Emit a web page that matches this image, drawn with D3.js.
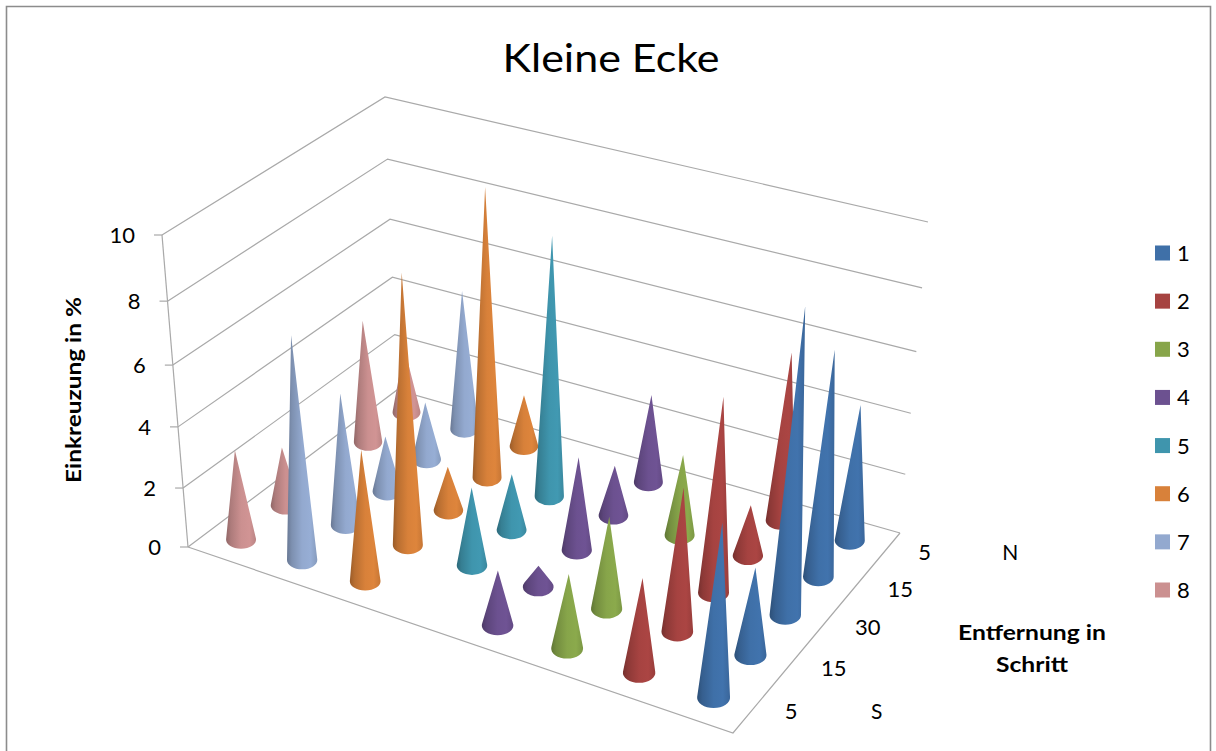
<!DOCTYPE html>
<html>
<head>
  <meta charset="utf-8">
  <script src="https://d3js.org/d3.v7.min.js"></script>
  <style>
    html, body {margin:0; padding:0; background:#fff;}
    text {font-family:Lato, "Open Sans", sans-serif; fill:#000;}
  </style>
</head>
<body>
<svg id="chart" width="1216" height="751"></svg>
<script>
  // Values, one array per series, empty spots are 0
  var series = ["1", "2", "3", "4", "5", "6", "7", "8"];
  var categories = ["5 S", "15 S", "30", "15 N", "5 N"];
  var categoryLabels = ["5", "15", "30", "15", "5"];
  var outerLabels = ["S", "", "", "", "N"];
  var yTicks = [0, 2, 4, 6, 8, 10];
  var s1 = [5.4, 2.8, 9.6, 7.3, 4.5];
  var s2 = [3.0, 4.6, 6.3, 1.7, 5.6];
  var s3 = [2.4, 3.0, 0, 2.7, 0];
  var s4 = [1.8, 0.7, 3.1, 1.7, 3.0];
  var s5 = [0, 2.6, 1.9, 8.6, 0];
  var s6 = [4.3, 8.8, 1.5, 9.6, 1.8];
  var s7 = [7.3, 4.4, 1.9, 2.0, 4.8];
  var s8 = [3.0, 2.0, 0, 4.2, 2.3];
  var values = [s1, s2, s3, s4, s5, s6, s7, s8];
  var colors = ["#3f70a8", "#a64341", "#87a54a", "#6c5190", "#3f95ad", "#d8813a", "#93a9cf", "#cb9090"];

  // Corners of the 3D box on screen: floor and the 10 % level
  var floorBox = {front:[733,733], left:[188,547], back:[397,390], right:[900,533]};
  var topBox = {front:[751,393], left:[162,235], back:[385,97], right:[928,222]};

  // Projective map from the unit square to a quad on screen
  function quadMap(q) {
    var x0=q.front[0], y0=q.front[1], x1=q.left[0], y1=q.left[1],
        x2=q.back[0], y2=q.back[1], x3=q.right[0], y3=q.right[1];
    var sx=x0-x1+x2-x3, sy=y0-y1+y2-y3,
        dx1=x1-x2, dx2=x3-x2, dy1=y1-y2, dy2=y3-y2,
        den=dx1*dy2-dx2*dy1,
        g=(sx*dy2-dx2*sy)/den, h=(dx1*sy-sx*dy1)/den,
        a=x1-x0+g*x1, b=x3-x0+h*x3, d=y1-y0+g*y1, e=y3-y0+h*y3;
    return function(u, v) {
      var w=g*u+h*v+1;
      return [(a*u+b*v+x0)/w, (d*u+e*v+y0)/w];
    };
  }
  var floorAt = quadMap(floorBox), topAt = quadMap(topBox);

  var u = d3.scaleBand().domain(series).range([0, 1]);
  var v = d3.scaleBand().domain(categories).range([0, 1]);
  // wall levels get a bit wider towards the top
  var y = d3.scaleLinear().domain(yTicks).range([0, .189, .385, .583, .788, 1]);
  var legendY = d3.scaleLinear().domain([0, 7]).range([253, 590]);
  var coneR = d3.scaleLinear().domain([296, 335]).range([14, 16.5]);

  function at(uu, vv, level) {
    return d3.interpolateArray(floorAt(uu, vv), topAt(uu, vv))(y(level));
  }

  var svg = d3.select("#chart");
  var line = d3.line();

  // chart frame, the bottom edge is cut off
  svg.append("path").attr("d", "M6.5,751V6.5H1210.5V751").attr("fill", "none")
    .attr("stroke", "#8c8c8c").attr("stroke-width", 1.6);

  svg.append("text").attr("x", 611).attr("y", 72).attr("text-anchor", "middle")
    .attr("font-size", 39).attr("textLength", 217).attr("lengthAdjust", "spacingAndGlyphs")
    .text("Kleine Ecke");

  // walls
  var wall = svg.append("g").attr("fill", "none").attr("stroke", "#a9a9a9").attr("stroke-width", 1.2);
  yTicks.forEach(function(t) {
    wall.append("path").attr("d", line([at(1, 0, t), at(1, 1, t), at(0, 1, t)]));
  });
  wall.append("path").attr("d", line([at(1, 0, 10), at(1, 0, 0)]));
  wall.append("path").attr("d", line([floorAt(1, 0), floorAt(0, 0), floorAt(0, 1)]));

  // value axis
  yTicks.forEach(function(t) {
    var p = at(1, 0, t);
    wall.append("path").attr("d", line([[p[0] - 8, p[1]], p]));
    svg.append("text").attr("x", p[0] - 27).attr("y", p[1] + 8).attr("text-anchor", "end")
      .attr("font-size", 22).text(t);
  });

  // category labels along the right floor edge
  categories.forEach(function(c, j) {
    var p = floorAt(0, v(c) + v.bandwidth() / 2);
    svg.append("text").attr("x", p[0] + 33).attr("y", p[1] + 9).attr("font-size", 22).text(categoryLabels[j]);
    if (outerLabels[j]) {
      svg.append("text").attr("x", p[0] + 125).attr("y", p[1] + 9).attr("text-anchor", "middle")
        .attr("font-size", 21).text(outerLabels[j]);
    }
  });

  // one shaded gradient per series
  var defs = svg.append("defs");
  series.forEach(function(s, i) {
    var c = d3.color(colors[i]);
    var grad = defs.append("linearGradient").attr("id", "cone" + s);
    [[0, c.darker(.95)], [.16, c.darker(.45)], [.5, c], [.78, c.brighter(.08)], [1, c.darker(.25)]].forEach(function(st) {
      grad.append("stop").attr("offset", st[0]).attr("stop-color", st[1].formatHex());
    });
  });

  // flatten to a list of cones and paint back to front
  var cones = [];
  values.forEach(function(list, i) {
    list.forEach(function(val, j) {
      if (val <= 0) return;
      var uu = u(series[i]) + u.bandwidth() / 2, vv = v(categories[j]) + v.bandwidth() / 2;
      cones.push({s: series[i], base: floorAt(uu, vv), tip: at(uu, vv, val), h: topAt(uu, vv)});
    });
  });
  cones.sort(function(a, b) {return a.base[1] - b.base[1];});

  svg.append("g").selectAll("path").data(cones).join("path")
    .attr("fill", function(d) {return "url(#cone" + d.s + ")";})
    .attr("d", function(d) {
      var r = coneR(d.base[1] - d.h[1]), ry = r * .62;
      var dist = d.base[1] - d.tip[1];
      // sides touch the base ellipse a little above its middle
      var k = Math.min(ry / dist, .9), ty = d.base[1] - ry * k, tx = r * Math.sqrt(1 - k * k);
      return "M" + d.tip[0] + "," + d.tip[1] +
        "L" + (d.base[0] + tx) + "," + ty +
        "A" + r + "," + ry + " 0 1 1 " + (d.base[0] - tx) + "," + ty + "Z";
    });

  // axis titles
  svg.append("text").attr("transform", "translate(81,390) rotate(-90)").attr("text-anchor", "middle")
    .attr("font-size", 20).attr("font-weight", 700).attr("textLength", 186).attr("lengthAdjust", "spacingAndGlyphs")
    .text("Einkreuzung in %");
  svg.append("text").attr("x", 1032).attr("y", 640).attr("text-anchor", "middle")
    .attr("font-size", 20).attr("font-weight", 700).attr("textLength", 148).attr("lengthAdjust", "spacingAndGlyphs")
    .text("Entfernung in");
  svg.append("text").attr("x", 1032).attr("y", 672).attr("text-anchor", "middle")
    .attr("font-size", 20).attr("font-weight", 700).attr("textLength", 72).attr("lengthAdjust", "spacingAndGlyphs")
    .text("Schritt");

  // legend
  var legend = svg.append("g").selectAll("g").data(series).join("g")
    .attr("transform", function(d, i) {return "translate(1155," + legendY(i) + ")";});
  legend.append("rect").attr("y", -7.5).attr("width", 15).attr("height", 15)
    .attr("fill", function(d, i) {return colors[i];});
  legend.append("text").attr("x", 22).attr("y", 8).attr("font-size", 22).text(function(d) {return d;});
</script>
</body>
</html>
